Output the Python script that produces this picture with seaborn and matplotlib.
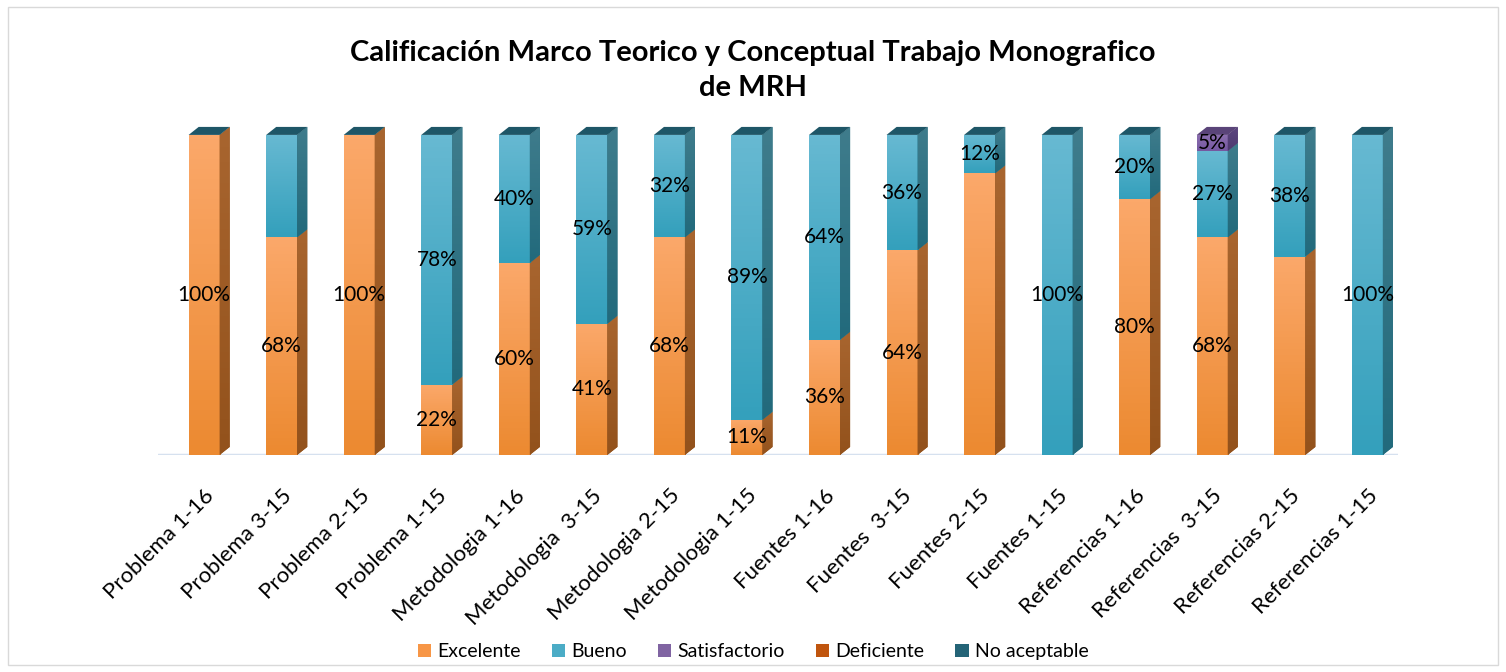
import numpy as np
import pandas as pd
import matplotlib
matplotlib.use("Agg")
import matplotlib.pyplot as plt
import seaborn as sns
from matplotlib.patches import Polygon, Patch, Rectangle
from matplotlib.colors import LinearSegmentedColormap

categorias = ["Problema 1-16", "Problema 3-15", "Problema 2-15", "Problema 1-15",
              "Metodologia 1-16", "Metodologia  3-15", "Metodologia 2-15", "Metodologia 1-15",
              "Fuentes 1-16", "Fuentes  3-15", "Fuentes 2-15", "Fuentes 1-15",
              "Referencias 1-16", "Referencias  3-15", "Referencias 2-15", "Referencias 1-15"]

excelente     = [100, 68, 100, 22, 60, 41, 68, 11, 36, 64, 88, 0, 80, 68, 62, 0]
bueno         = [0, 32, 0, 78, 40, 59, 32, 89, 64, 36, 12, 100, 20, 27, 38, 100]
satisfactorio = [0, 0, 0, 0, 0, 0, 0, 0, 0, 0, 0, 0, 0, 5, 0, 0]
deficiente    = [0] * 16
no_aceptable  = [0] * 16

# labels shown on the chart (some segments have no label in the original)
lab_excelente = ["100%", "68%", "100%", "22%", "60%", "41%", "68%", "11%",
                 "36%", "64%", "", "", "80%", "68%", "", ""]
lab_bueno     = ["", "", "", "78%", "40%", "59%", "32%", "89%",
                 "64%", "36%", "12%", "100%", "20%", "27%", "38%", "100%"]
lab_satisf    = [""] * 13 + ["5%", "", ""]

series = ["Excelente", "Bueno", "Satisfactorio", "Deficiente", "No aceptable"]
leyenda_col = ["#F79646", "#4BACC6", "#8064A2", "#C0550E", "#246477"]

# front gradient (top, bottom), side gradient (top, bottom)
estilo = {
    "Excelente": (("#FBA86A", "#EC8A31"), ("#A8652F", "#93521C")),
    "Bueno": (("#67B9D2", "#34A0BC"), ("#3F7C8C", "#226A7C")),
    "Satisfactorio": (("#8C6FB0", "#7558A0"), ("#5C4680", "#4E3A70")),
}
cap_color = "#1E5667"
cap_purple = "#5A4479"

sns.set_theme(style="white")
plt.rcParams["font.family"] = ["Lato", "DejaVu Sans"]
plt.rcParams["text.color"] = "black"
plt.rcParams["xtick.color"] = "black"

fig = plt.figure(figsize=(15.06, 6.72), dpi=100)
ax = fig.add_axes([0.105, 0.323, 0.823, 0.491])

df = pd.DataFrame({"cat": categorias, "Excelente": excelente, "Bueno": bueno,
                   "Satisfactorio": satisfactorio})

dx, dy = 0.13, 2.5
bottoms = np.zeros(len(categorias))
containers = []
for name in ["Excelente", "Bueno", "Satisfactorio"]:
    sns.barplot(data=df, x="cat", y=name, color=estilo[name][0][0], width=0.40,
                ax=ax, saturation=1, linewidth=0, order=categorias)
    cont = ax.containers[-1]
    vals = df[name].values
    for i, p in enumerate(cont.patches):
        p.set_y(bottoms[i])
        p.set_height(vals[i])
    containers.append((name, cont, bottoms.copy(), vals))
    bottoms = bottoms + vals

ax.set_xlim(-0.593, 15.39)
ax.set_ylim(0, 103.1)

grad = np.linspace(0, 1, 64).reshape(-1, 1)
top_seg = {}
for name, cont, bot, vals in containers:
    (ft, fb), (st, sb) = estilo[name]
    cmap_f = LinearSegmentedColormap.from_list("f", [ft, fb])
    cmap_s = LinearSegmentedColormap.from_list("s", [st, sb])
    for i, p in enumerate(cont.patches):
        if vals[i] <= 0:
            p.set_visible(False)
            continue
        x0, w, y0, h = p.get_x(), p.get_width(), p.get_y(), p.get_height()
        im = ax.imshow(grad, extent=(x0, x0 + w, y0, y0 + h), cmap=cmap_f,
                       aspect="auto", zorder=2)
        im.set_clip_path(p)
        side = Polygon([(x0 + w, y0), (x0 + w + dx, y0 + dy),
                        (x0 + w + dx, y0 + h + dy), (x0 + w, y0 + h)],
                       closed=True, facecolor=sb, edgecolor="none", zorder=2)
        ax.add_patch(side)
        im2 = ax.imshow(grad, extent=(x0 + w, x0 + w + dx, y0, y0 + h + dy),
                        cmap=cmap_s, aspect="auto", zorder=2)
        im2.set_clip_path(side)
        top_seg[i] = (name, x0, w, y0 + h)

for i, (name, x0, w, yt) in top_seg.items():
    c = cap_purple if name == "Satisfactorio" else cap_color
    ax.add_patch(Polygon([(x0, yt), (x0 + w, yt), (x0 + w + dx, yt + dy),
                          (x0 + dx, yt + dy)], closed=True, facecolor=c,
                         edgecolor="none", zorder=3))

for (name, cont, bot, vals), labs in zip(containers, [lab_excelente, lab_bueno, lab_satisf]):
    ax.bar_label(cont, labels=labs, label_type="center", fontsize=15,
                 color="black", zorder=5)

ax.axhline(0, color="#D6E1EF", lw=2.5, zorder=1)
sns.despine(ax=ax, left=True, bottom=True, top=True, right=True)
ax.set_yticks([])
ax.set_xlabel("")
ax.set_ylabel("")
ax.set_xticks(range(len(categorias)))
ax.set_xticklabels(categorias, rotation=45, ha="right", rotation_mode="anchor",
                   fontsize=16)
ax.tick_params(axis="x", length=0, pad=22)

fig.suptitle("Calificación Marco Teorico y Conceptual Trabajo Monografico\nde MRH",
             fontsize=21, fontweight="bold", y=0.94, linespacing=1.4,
             color="black")

handles = [Patch(facecolor=c, edgecolor="none") for c in leyenda_col]
fig.legend(handles, series, loc="center", bbox_to_anchor=(0.5, 0.03), ncol=5,
           frameon=False, fontsize=14, handlelength=0.7, handleheight=0.7,
           handletextpad=0.3, columnspacing=1.6)

fig.patches.append(Rectangle((0.005, 0.01), 0.99, 0.98, transform=fig.transFigure,
                             fill=False, edgecolor="#D9D9D9", lw=1))

fig.savefig("out.png", dpi=100)
